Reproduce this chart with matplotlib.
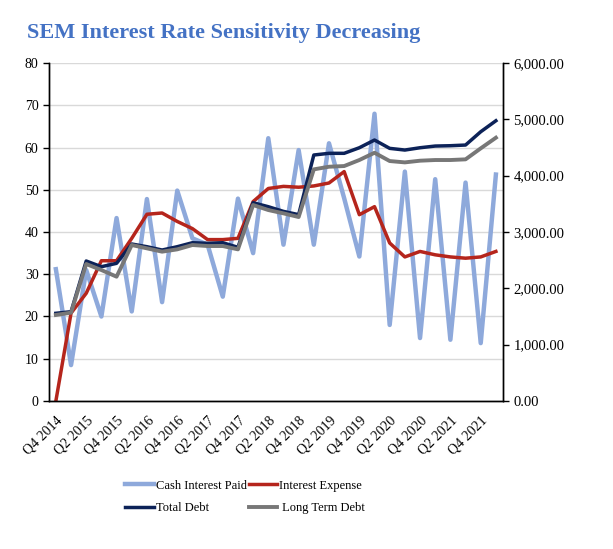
import matplotlib
matplotlib.use("Agg")
import matplotlib.pyplot as plt
from matplotlib.ticker import FuncFormatter, MultipleLocator

plt.rcParams["font.family"] = ["Liberation Serif", "DejaVu Serif"]

# quarterly, Q4 2014 .. Q1 2022
quarters = [
    "Q4 2014", "Q1 2015", "Q2 2015", "Q3 2015", "Q4 2015", "Q1 2016",
    "Q2 2016", "Q3 2016", "Q4 2016", "Q1 2017", "Q2 2017", "Q3 2017",
    "Q4 2017", "Q1 2018", "Q2 2018", "Q3 2018", "Q4 2018", "Q1 2019",
    "Q2 2019", "Q3 2019", "Q4 2019", "Q1 2020", "Q2 2020", "Q3 2020",
    "Q4 2020", "Q1 2021", "Q2 2021", "Q3 2021", "Q4 2021", "Q1 2022",
]

# left axis
cash_interest_paid = [
    31.2, 8.5, 31.0, 20.0, 43.3, 21.2, 47.8, 23.4, 49.8, 38.5,
    37.0, 24.7, 47.9, 35.0, 62.2, 37.0, 59.4, 37.0, 61.0, 48.0,
    34.2, 68.0, 18.0, 54.3, 14.9, 52.5, 14.5, 51.7, 13.7, 53.6,
]
interest_expense = [
    0.0, 20.8, 25.5, 33.2, 33.2, 38.5, 44.2, 44.5, 42.5, 40.8,
    38.2, 38.2, 38.5, 47.2, 50.3, 50.8, 50.6, 50.9, 51.6, 54.3,
    44.1, 46.0, 37.4, 34.1, 35.4, 34.6, 34.1, 33.8, 34.1, 35.4,
]

# right axis
total_debt = [
    1557, 1585, 2485, 2384, 2444, 2787, 2739, 2680, 2739, 2810,
    2799, 2810, 2728, 3520, 3449, 3366, 3308, 4367, 4397, 4397,
    4496, 4633, 4485, 4455, 4496, 4526, 4532, 4544, 4780, 4975,
]
long_term_debt = [
    1527, 1568, 2432, 2325, 2207, 2769, 2710, 2651, 2692, 2769,
    2751, 2751, 2692, 3479, 3390, 3331, 3266, 4112, 4159, 4171,
    4278, 4407, 4260, 4236, 4266, 4278, 4278, 4290, 4485, 4674,
]

x = list(range(len(quarters)))

fig = plt.figure(figsize=(6.13, 5.49), dpi=100)
ax = fig.add_axes([0.080, 0.2696, 0.7406, 0.6156])
ax2 = ax.twinx()

l1, = ax.plot(x, cash_interest_paid, color="#8EA9DB", lw=3.2, label="Cash Interest Paid")
l2, = ax.plot(x, interest_expense, color="#B5251C", lw=2.5, label="Interest Expense")
l3, = ax2.plot(x, total_debt, color="#0C2258", lw=2.5, label="Total Debt")
l4, = ax2.plot(x, long_term_debt, color="#777777", lw=2.8, label=" Long Term Debt")

ax.set_xlim(-0.45, 29.47)
ax.set_ylim(0, 80)
ax.yaxis.set_major_locator(MultipleLocator(10))
ax2.set_ylim(0, 6000)
ax2.yaxis.set_major_locator(MultipleLocator(1000))
ax2.yaxis.set_major_formatter(FuncFormatter(lambda v, p: f"{v:,.2f}"))

ax.grid(axis="y", color="#D9D9D9", lw=1)
ax.set_axisbelow(True)

ax.set_xticks(x[::2])
ax.set_xticklabels(quarters[::2], rotation=45, ha="right", rotation_mode="anchor", fontsize=10)
ax.tick_params(axis="x", length=0, pad=9)
ax.tick_params(axis="y", labelsize=10, length=4, width=1)
ax2.tick_params(axis="y", labelsize=10.5, length=4, width=1)

for a in (ax, ax2):
    a.spines["top"].set_visible(False)
    for s in ("left", "right", "bottom"):
        a.spines[s].set_color("black")
        a.spines[s].set_linewidth(1)

fig.text(27 / 613, 1 - 33 / 549, "SEM Interest Rate Sensitivity Decreasing",
         fontsize=16, fontweight="bold", color="#4472C4", ha="left", va="center")

# matplotlib fills legend columns first, so order handles to get rows right
fig.legend(handles=[l1, l3, l2, l4], ncol=2, loc="center",
           bbox_to_anchor=(245 / 613, 1 - 497 / 549), frameon=False,
           fontsize=9, handlelength=2.3, handletextpad=0.15,
           columnspacing=0.15, labelspacing=0.85)

fig.savefig("out.png", dpi=100)
